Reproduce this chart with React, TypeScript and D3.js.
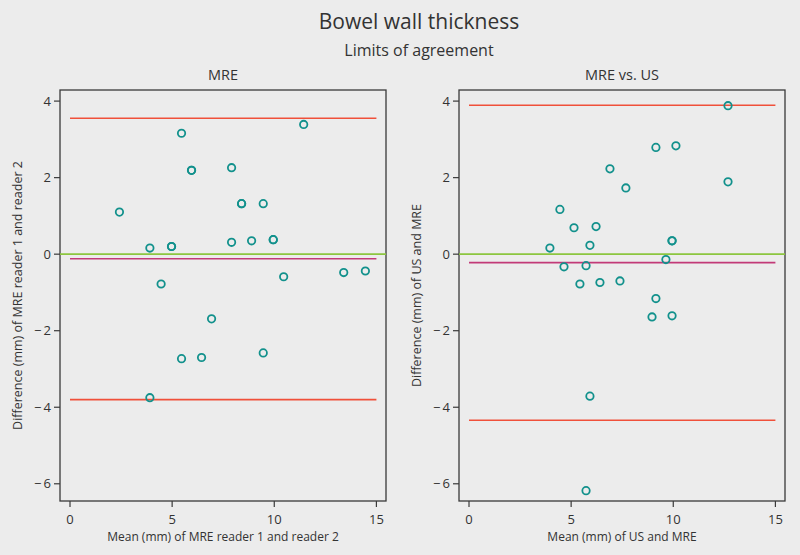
import React from 'react';
import * as d3 from 'd3';

// MRE reader 1 vs reader 2: [mean, difference]
const mreMeans = [5.46, 11.44, 5.95, 5.95, 7.91, 2.42, 8.4, 8.4, 9.46, 3.91, 4.97, 4.97, 7.91, 8.89, 9.95, 9.95, 4.46, 10.46, 13.4, 14.46, 6.93, 5.46, 6.44, 9.46, 3.91];
const mreDiffs = [3.16, 3.39, 2.19, 2.19, 2.26, 1.1, 1.32, 1.32, 1.32, 0.16, 0.2, 0.2, 0.31, 0.35, 0.38, 0.38, -0.78, -0.59, -0.48, -0.44, -1.69, -2.73, -2.7, -2.58, -3.75];
const mreLimits = { upper: 3.55, bias: -0.12, lower: -3.8 };

// US vs MRE
const usMeans = [12.68, 9.15, 10.13, 6.9, 7.68, 12.68, 4.45, 5.14, 6.22, 3.96, 5.92, 9.94, 9.94, 4.65, 5.73, 9.64, 5.43, 6.41, 7.39, 9.15, 8.96, 9.94, 5.92, 5.73];
const usDiffs = [3.88, 2.79, 2.83, 2.23, 1.73, 1.89, 1.17, 0.69, 0.72, 0.16, 0.23, 0.35, 0.35, -0.33, -0.3, -0.14, -0.78, -0.74, -0.7, -1.16, -1.64, -1.61, -3.71, -6.18];
const usLimits = { upper: 3.89, bias: -0.22, lower: -4.34 };

const xTicks = [0, 5, 10, 15];
const yTicks = [4, 2, 0, -2, -4, -6];

const W = 800, H = 555;
const font = '"Open Sans", sans-serif';
const ink = '#333';

type PanelProps = {
  left: number;
  title: string;
  xLabel: string;
  yLabel: string;
  means: number[];
  diffs: number[];
  limits: { upper: number; bias: number; lower: number };
};

function Panel({ left, title, xLabel, yLabel, means, diffs, limits }: PanelProps) {
  const frame = { x0: left, x1: left + 326, y0: 90, y1: 501 };
  const x = d3.scaleLinear().domain([-0.49, 15.47]).range([frame.x0, frame.x1]);
  const y = d3.scaleLinear().domain([4.29, -6.45]).range([frame.y0, frame.y1]);
  const midX = (frame.x0 + frame.x1) / 2;
  const midY = (frame.y0 + frame.y1) / 2;
  const fmt = (v: number) => (v < 0 ? '\u2212\u2009' + Math.abs(v) : String(v));

  return (
    <g fontFamily={font}>
      <text x={midX} y={80} textAnchor="middle" fontSize={14.5} fill={ink}>{title}</text>
      <rect x={frame.x0} y={frame.y0} width={frame.x1 - frame.x0} height={frame.y1 - frame.y0}
        fill="none" stroke="#3a3a3a" strokeWidth={1.3} />
      {/* zero line */}
      <line x1={frame.x0} x2={frame.x1} y1={y(0)} y2={y(0)} stroke="#8cc63f" strokeWidth={1.6} />
      <line x1={x(0)} x2={x(15)} y1={y(limits.upper)} y2={y(limits.upper)} stroke="#f0503a" strokeWidth={1.6} />
      <line x1={x(0)} x2={x(15)} y1={y(limits.lower)} y2={y(limits.lower)} stroke="#f0503a" strokeWidth={1.6} />
      <line x1={x(0)} x2={x(15)} y1={y(limits.bias)} y2={y(limits.bias)} stroke="#c23a78" strokeWidth={1.6} />
      {means.map((m, i) => (
        <circle key={i} cx={x(m)} cy={y(diffs[i])} r={3.7} fill="none" stroke="#12918c" strokeWidth={1.8} />
      ))}
      {yTicks.map(t => (
        <g key={t}>
          <line x1={frame.x0 - 6} x2={frame.x0} y1={y(t)} y2={y(t)} stroke="#3a3a3a" strokeWidth={1.2} />
          <text x={frame.x0 - 9} y={y(t)} dy="0.35em" textAnchor="end" fontSize={13} fill={ink}>{fmt(t)}</text>
        </g>
      ))}
      {xTicks.map(t => (
        <g key={t}>
          <line x1={x(t)} x2={x(t)} y1={frame.y1} y2={frame.y1 + 6} stroke="#3a3a3a" strokeWidth={1.2} />
          <text x={x(t)} y={frame.y1 + 23} textAnchor="middle" fontSize={13} fill={ink}>{t}</text>
        </g>
      ))}
      <text x={midX} y={541} textAnchor="middle" fontSize={12} fill={ink}>{xLabel}</text>
      <text transform={`translate(${frame.x0 - 38},${midY}) rotate(-90)`} textAnchor="middle" fontSize={12.5} fill={ink}>{yLabel}</text>
    </g>
  );
}

export default function App() {
  return (
    <svg width={W} height={H} style={{ position: 'absolute', left: 0, top: 0 }}>
      <rect width={W} height={H} fill="#ececec" />
      <text x={419} y={29} textAnchor="middle" fontFamily={font} fontSize={21} fill={ink}>Bowel wall thickness</text>
      <text x={419} y={56} textAnchor="middle" fontFamily={font} fontSize={16} fill={ink}>Limits of agreement</text>
      <Panel left={60} title="MRE" xLabel="Mean (mm) of MRE reader 1 and reader 2"
        yLabel="Difference (mm) of MRE reader 1 and reader 2" means={mreMeans} diffs={mreDiffs} limits={mreLimits} />
      <Panel left={459} title="MRE vs. US" xLabel="Mean (mm) of US and MRE"
        yLabel="Difference (mm) of US and MRE" means={usMeans} diffs={usDiffs} limits={usLimits} />
    </svg>
  );
}
